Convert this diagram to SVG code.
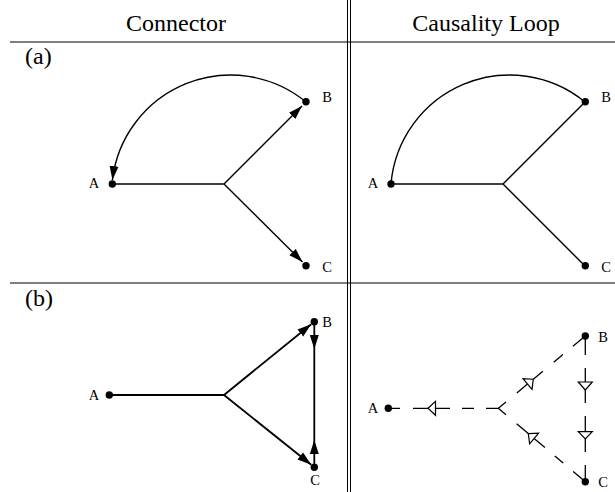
<svg xmlns="http://www.w3.org/2000/svg" width="615" height="492" viewBox="0 0 615 492">
<style>
.frame{stroke:#000;stroke-width:1.2;fill:none}
.vl{stroke:#000;stroke-width:1;fill:none}
.hdr{font-family:"Liberation Serif","Times New Roman",serif;font-size:24px;fill:#000}
.lbl{font-family:"Liberation Serif","Times New Roman",serif;font-size:14.5px;fill:#000;text-anchor:middle}
.dot{fill:#000}
.ln{stroke:#000;stroke-width:1.4;fill:none}
.lnb{stroke:#000;stroke-width:1.8;fill:none}
.dl{stroke:#000;stroke-width:1.3;fill:none}
.tri{fill:#fff;stroke:#000;stroke-width:1.2;stroke-linejoin:miter}
</style>
<defs>
<marker id="ah" markerUnits="userSpaceOnUse" markerWidth="14" markerHeight="10" refX="14" refY="5" orient="auto">
<path d="M0,0.5 L14,5 L0,9.5 z" fill="#000"/>
</marker>
</defs>
<rect width="615" height="492" fill="#fff"/>
<g id="table">
<line class="frame" x1="10" y1="42" x2="615" y2="42"/>
<line class="frame" x1="10" y1="283" x2="615" y2="283"/>
<line class="vl" x1="347.5" y1="0" x2="347.5" y2="492"/>
<line class="vl" x1="350.5" y1="0" x2="350.5" y2="492"/>
<text class="hdr" x="176" y="31" text-anchor="middle">Connector</text>
<text class="hdr" x="486" y="31" text-anchor="middle">Causality Loop</text>
<text class="hdr" x="25" y="64">(a)</text>
<text class="hdr" x="25" y="306">(b)</text>
</g>
<g id="connectors">
<!-- (a) connector -->
<path class="ln" d="M306,102 A119,119 0 0 0 112.4,180" marker-end="url(#ah)"/>
<line class="ln" x1="112" y1="184" x2="224" y2="184"/>
<line class="ln" x1="224" y1="184" x2="302" y2="106" marker-end="url(#ah)"/>
<line class="ln" x1="224" y1="184" x2="302.5" y2="262" marker-end="url(#ah)"/>
<!-- (a) causality loop -->
<path class="ln" d="M585,102 A119,119 0 0 0 391,184"/>
<line class="ln" x1="391" y1="184" x2="503" y2="184"/>
<line class="ln" x1="503" y1="184" x2="585" y2="102"/>
<line class="ln" x1="503" y1="184" x2="585" y2="266"/>
<!-- (b) connector -->
<line class="lnb" x1="109" y1="395" x2="224" y2="395"/>
<line class="lnb" x1="224" y1="395" x2="311.2" y2="324.2" marker-end="url(#ah)"/>
<line class="lnb" x1="224" y1="395" x2="311.2" y2="464.8" marker-end="url(#ah)"/>
<line class="lnb" x1="314.3" y1="322" x2="314.3" y2="349" marker-end="url(#ah)"/>
<line class="lnb" x1="314.3" y1="349" x2="314.3" y2="440"/>
<line class="lnb" x1="314.3" y1="467" x2="314.3" y2="440" marker-end="url(#ah)"/>
<!-- (b) causality loop: J-A -->
<path class="dl" d="M392,408.3 H400 M413,408.3 H428 M435.5,408.3 H450 M462,408.3 H474 M486,408.3 H498.3"/>
<polygon class="tri" points="428,408.3 435.5,401.3 435.5,415.3"/>
<!-- J-B -->
<path class="dl" d="M498.3,408.3 L506,401.9 M516.8,393 L527.5,384 M533.3,379.2 L542.9,371.2 M553.7,362.3 L562.9,354.6 M572.9,346.3 L585.3,336"/>
<polygon class="tri" points="533.3,379.2 532.0,389.4 523.0,378.6"/>
<!-- J-C -->
<path class="dl" d="M498.3,408.3 L506,414.8 M516.6,423.8 L528.3,433.6 M534.1,438.5 L544.9,447.6 M554.8,456 L563.2,463.1 M573.2,471.5 L585.3,481.7"/>
<polygon class="tri" points="528.3,433.6 538.6,433.2 529.6,443.8"/>
<!-- B-C -->
<path class="dl" d="M585.3,336 V355 M585.3,368 V382 M585.3,390 V403 M585.3,416 V431.7 M585.3,439 V452 M585.3,465 V481.7"/>
<polygon class="tri" points="578.3,382 592.3,382 585.3,390"/>
<polygon class="tri" points="578.3,431.7 592.3,431.7 585.3,439"/>
</g>
<g id="nodeA_a_left"><circle class="dot" cx="112.3" cy="184" r="3.7"/><text class="lbl" x="94" y="188">A</text></g>
<g id="nodeB_a_left"><circle class="dot" cx="306" cy="101.7" r="3.7"/><text class="lbl" x="327" y="102">B</text></g>
<g id="nodeC_a_left"><circle class="dot" cx="306" cy="265.7" r="3.7"/><text class="lbl" x="327" y="272">C</text></g>
<g id="nodeA_a_right"><circle class="dot" cx="391" cy="184" r="3.7"/><text class="lbl" x="373" y="188">A</text></g>
<g id="nodeB_a_right"><circle class="dot" cx="585.3" cy="101.7" r="3.7"/><text class="lbl" x="606" y="102">B</text></g>
<g id="nodeC_a_right"><circle class="dot" cx="585.3" cy="265.7" r="3.7"/><text class="lbl" x="606" y="272">C</text></g>
<g id="nodeA_b_left"><circle class="dot" cx="109.3" cy="395" r="3.7"/><text class="lbl" x="94" y="400">A</text></g>
<g id="nodeB_b_left"><circle class="dot" cx="314.3" cy="321.7" r="3.7"/><text class="lbl" x="327" y="327">B</text></g>
<g id="nodeC_b_left"><circle class="dot" cx="314.3" cy="467.3" r="3.7"/><text class="lbl" x="315" y="485">C</text></g>
<g id="nodeA_b_right"><circle class="dot" cx="388.3" cy="408.3" r="3.7"/><text class="lbl" x="373" y="413">A</text></g>
<g id="nodeB_b_right"><circle class="dot" cx="585.3" cy="336" r="3.7"/><text class="lbl" x="603" y="342">B</text></g>
<g id="nodeC_b_right"><circle class="dot" cx="585.3" cy="481.7" r="3.7"/><text class="lbl" x="603" y="487">C</text></g>
</svg>
